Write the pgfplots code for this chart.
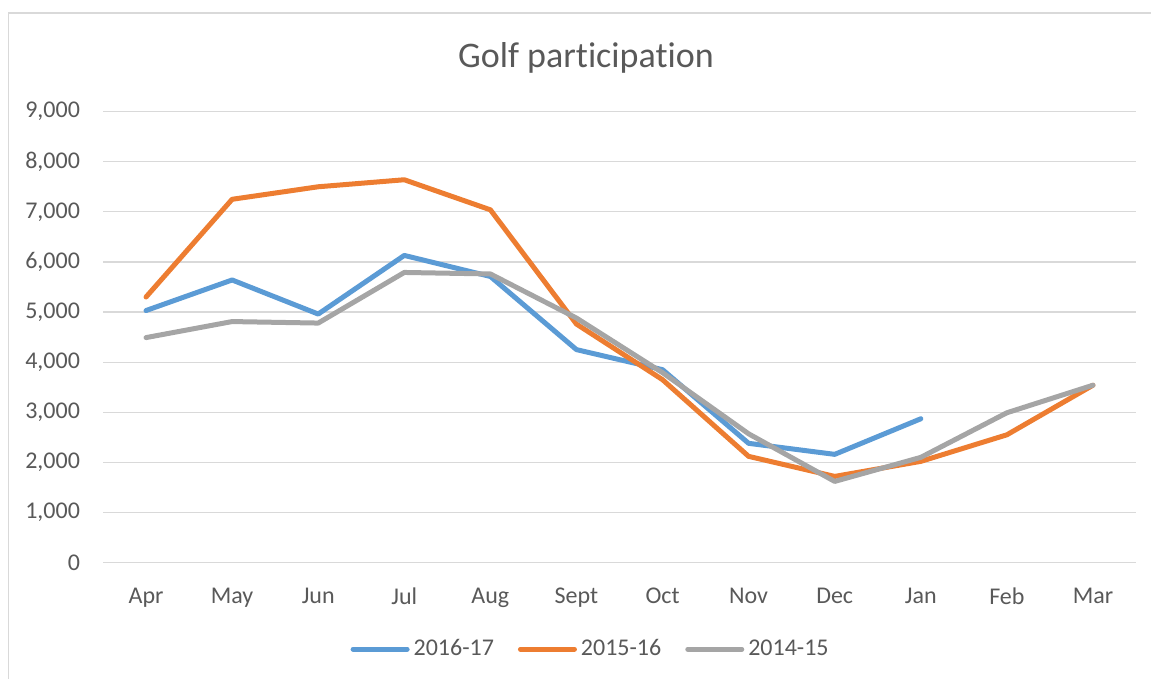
\documentclass[border=0pt]{standalone}
\usepackage{fontspec}
\setmainfont[Ligatures=NoCommon]{Carlito}
\usepackage{pgfplots}
\pgfplotsset{compat=1.18}

\definecolor{sblue}{HTML}{5B9BD5}
\definecolor{sorange}{HTML}{ED7D31}
\definecolor{sgray}{HTML}{A5A5A5}
\definecolor{txt}{HTML}{595959}
\definecolor{gridc}{HTML}{D9D9D9}

\begin{document}
\begin{tikzpicture}
% frame of the chart area (1px = 0.5pt)
\path[use as bounding box] (0,0) rectangle (575.5pt,339.5pt);
\draw[gridc, line width=0.8pt] (4.3pt,0) -- (4.3pt,333pt) -- (575.5pt,333pt);
\node[anchor=base, font=\fontsize{18}{21}\selectfont, text=txt] at (293pt,305.5pt) {Golf participation};

\begin{axis}[
    at={(51.5pt,58.2pt)}, anchor=south west,
    scale only axis,
    width=516.5pt, height=225.5pt,
    xmin=-0.5, xmax=11.5,
    ymin=0, ymax=9000,
    xtick={0,...,11},
    xticklabels={Apr,May,Jun,Jul,Aug,Sept,Oct,Nov,Dec,Jan,Feb,Mar},
    ytick={0,1000,...,9000},
    major tick length=0pt,
    axis line style={draw=none},
    ymajorgrids, xmajorgrids=false,
    grid style={draw=gridc, line width=0.6pt},
    tick label style={font=\fontsize{12}{14}\selectfont, text=txt},
    /pgf/number format/assume math mode=true,
    /pgf/number format/fixed,
    /pgf/number format/1000 sep={,},
    yticklabel style={xshift=-8pt},
    xticklabel style={yshift=-9pt},
    legend columns=3,
    legend style={at={(0.473,-0.192)}, anchor=center, draw=none,
      font=\fontsize{12}{14}\selectfont, text=txt,
      /tikz/every even column/.append style={column sep=10pt}},
    legend image code/.code={\draw[line cap=round, line width=2.5pt] (0pt,0pt) -- (27pt,0pt);},
    every axis plot/.append style={line width=2.5pt, line join=round, line cap=round, mark=none},
]
\addplot[sblue] coordinates {
  (0,5030) (1,5640) (2,4960) (3,6130) (4,5710) (5,4250) (6,3850) (7,2380) (8,2160) (9,2870)
};
\addplot[sorange] coordinates {
  (0,5300) (1,7250) (2,7500) (3,7640) (4,7040) (5,4760) (6,3650) (7,2120) (8,1720) (9,2020) (10,2550) (11,3540)
};
\addplot[sgray] coordinates {
  (0,4490) (1,4810) (2,4780) (3,5790) (4,5760) (5,4880) (6,3790) (7,2570) (8,1620) (9,2100) (10,2990) (11,3540)
};
\legend{2016-17,2015-16,2014-15}
\end{axis}
\end{tikzpicture}
\end{document}
